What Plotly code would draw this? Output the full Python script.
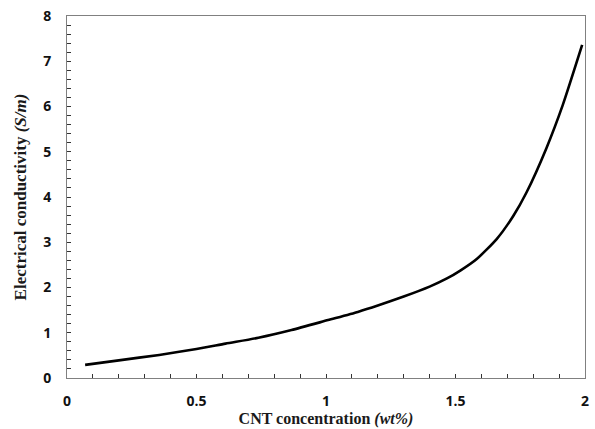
import plotly.graph_objects as go

cnt_wt = [0.07, 0.2, 0.356, 0.5, 0.612, 0.739, 0.867, 1.008, 1.123, 1.2, 1.3, 1.4,
          1.467, 1.52, 1.582, 1.659, 1.723, 1.774, 1.851, 1.914, 1.989]
conductivity = [0.29, 0.39, 0.51, 0.64, 0.76, 0.89, 1.06, 1.28, 1.46, 1.6, 1.8, 2.02,
                2.2, 2.38, 2.63, 3.07, 3.58, 4.1, 5.08, 6.03, 7.36]

x_ticks = [0, 0.5, 1, 1.5, 2]
x_ticklabels = ["0", "0.5", "1", "1.5", "2"]
y_ticks = [0, 1, 2, 3, 4, 5, 6, 7, 8]

fig = go.Figure()
fig.add_trace(go.Scatter(x=cnt_wt, y=conductivity, mode="lines",
                         line=dict(color="black", width=2.6, shape="spline", smoothing=0.6),
                         showlegend=False))

tickfont = dict(family="Open Sans", size=14, color="#111111", weight="bold")
axis_common = dict(showgrid=False, zeroline=False, showline=True, linecolor="#808080",
                   linewidth=1, mirror=True, ticks="inside", ticklen=4, tickcolor="#333333",
                   tickwidth=1, tickfont=tickfont)

fig.update_xaxes(range=[0, 2], tickvals=x_ticks, ticktext=x_ticklabels,
                 minor=dict(dtick=0.1, ticks="inside", ticklen=4, tickcolor="#333333"),
                 ticklabelstandoff=10,
                 title=dict(text="<b>CNT concentration <i>(wt%)</i></b>",
                            font=dict(family="Liberation Serif, Times New Roman, serif",
                                      size=16, color="#1a1a1a"),
                            standoff=2),
                 **axis_common)
fig.update_yaxes(range=[0, 8], tickvals=y_ticks,
                 minor=dict(dtick=0.2, ticks="inside", ticklen=4, tickcolor="#333333"),
                 ticklabelstandoff=12,
                 title=dict(text="<b>Electrical conductivity <i>(S/m)</i></b>",
                            font=dict(family="Liberation Serif, Times New Roman, serif",
                                      size=17, color="#1a1a1a"),
                            standoff=12),
                 **axis_common)

fig.update_layout(width=595, height=429, margin=dict(l=67, r=6, t=15, b=49),
                  plot_bgcolor="white", paper_bgcolor="white")

fig.write_html("out.html")
